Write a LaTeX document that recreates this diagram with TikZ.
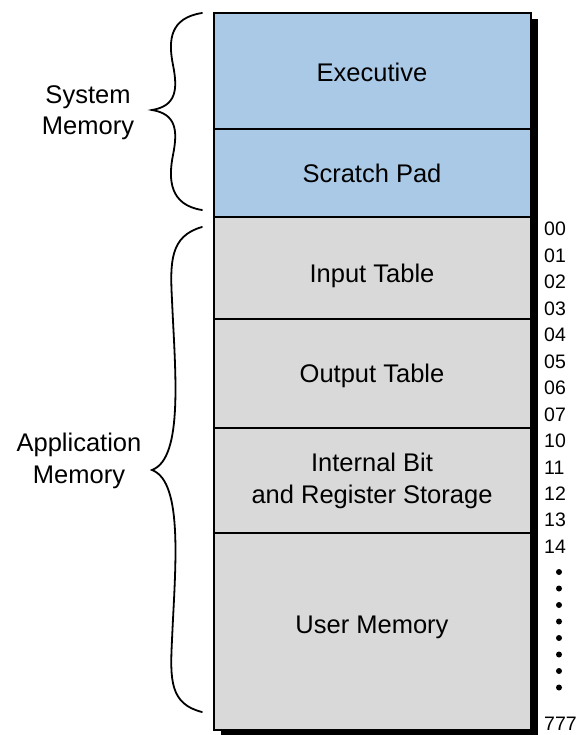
\documentclass[tikz,border=0pt]{standalone}
\usepackage{fontspec}
\setmainfont{Liberation Sans}
\definecolor{sysblue}{HTML}{A9C9E6}
\definecolor{appgray}{HTML}{D9D9D9}
\begin{document}
\begin{tikzpicture}[x=1pt,y=-1pt,
  membox/.style={draw=black,line width=1.8pt,minimum width=317pt,inner sep=0pt,anchor=north west},
  bigtxt/.style={font=\fontsize{25.5}{31.5}\selectfont,anchor=base,inner sep=0pt,align=center},
  addr/.style={font=\fontsize{19.5}{22}\selectfont,anchor=base west,inner sep=0pt},
  bracepath/.style={line width=1.8pt,line cap=round}]
\useasboundingbox (0,0) rectangle (581,735);
% shadow
\fill[black] (221,19) rectangle (538,737);
% boxes
\node[membox,fill=sysblue,minimum height=116pt] (exec) at (213,12) {};
\node[membox,fill=sysblue,minimum height=88pt] (scratch) at (213,128) {};
\node[membox,fill=appgray,minimum height=102pt] (input) at (213,216) {};
\node[membox,fill=appgray,minimum height=109pt] (output) at (213,318) {};
\node[membox,fill=appgray,minimum height=105pt] (internal) at (213,427) {};
\node[membox,fill=appgray,minimum height=197pt] (user) at (213,532) {};
% box texts
\node[bigtxt] (texec) at (372,82) {Executive};
\node[bigtxt] (tscratch) at (372,183) {Scratch Pad};
\node[bigtxt] (tinput) at (372,282) {Input Table};
\node[bigtxt] (toutput) at (372,382) {Output Table};
\node[bigtxt] (tinternal) at (372,503) {Internal Bit\\and Register Storage};
\node[bigtxt] (tuser) at (372,633) {User Memory};
% side labels
\node[bigtxt] (lsys) at (88,135) {System\\Memory};
\node[bigtxt] (lapp) at (79,483) {Application\\Memory};
% braces
\draw[bracepath] (202,13) .. controls (170,18) and (168,40) .. (173,65)
  .. controls (178,90) and (176,106) .. (152,110)
  .. controls (176,114) and (178,130) .. (173,155)
  .. controls (168,180) and (170,205) .. (202,210);
\draw[bracepath] (202,227) .. controls (170,236) and (170,262) .. (172,300)
  .. controls (175,370) and (184,458) .. (152,470)
  .. controls (184,482) and (175,570) .. (172,640)
  .. controls (170,680) and (170,704) .. (202,712);
% addresses
\foreach \t [count=\i from 0] in {00,01,02,03,04,05,06,07,10,11,12,13,14}{
  \node[addr] (a\i) at (544,{236+\i*26.45}) {\t};
}
\foreach \k [count=\j] in {572,588.5,605,621.5,638,654.5,671,687.5}{
  \fill (559,\k) circle (3pt);
}
\node[addr] (a777) at (544,730) {777};
\end{tikzpicture}
\end{document}
